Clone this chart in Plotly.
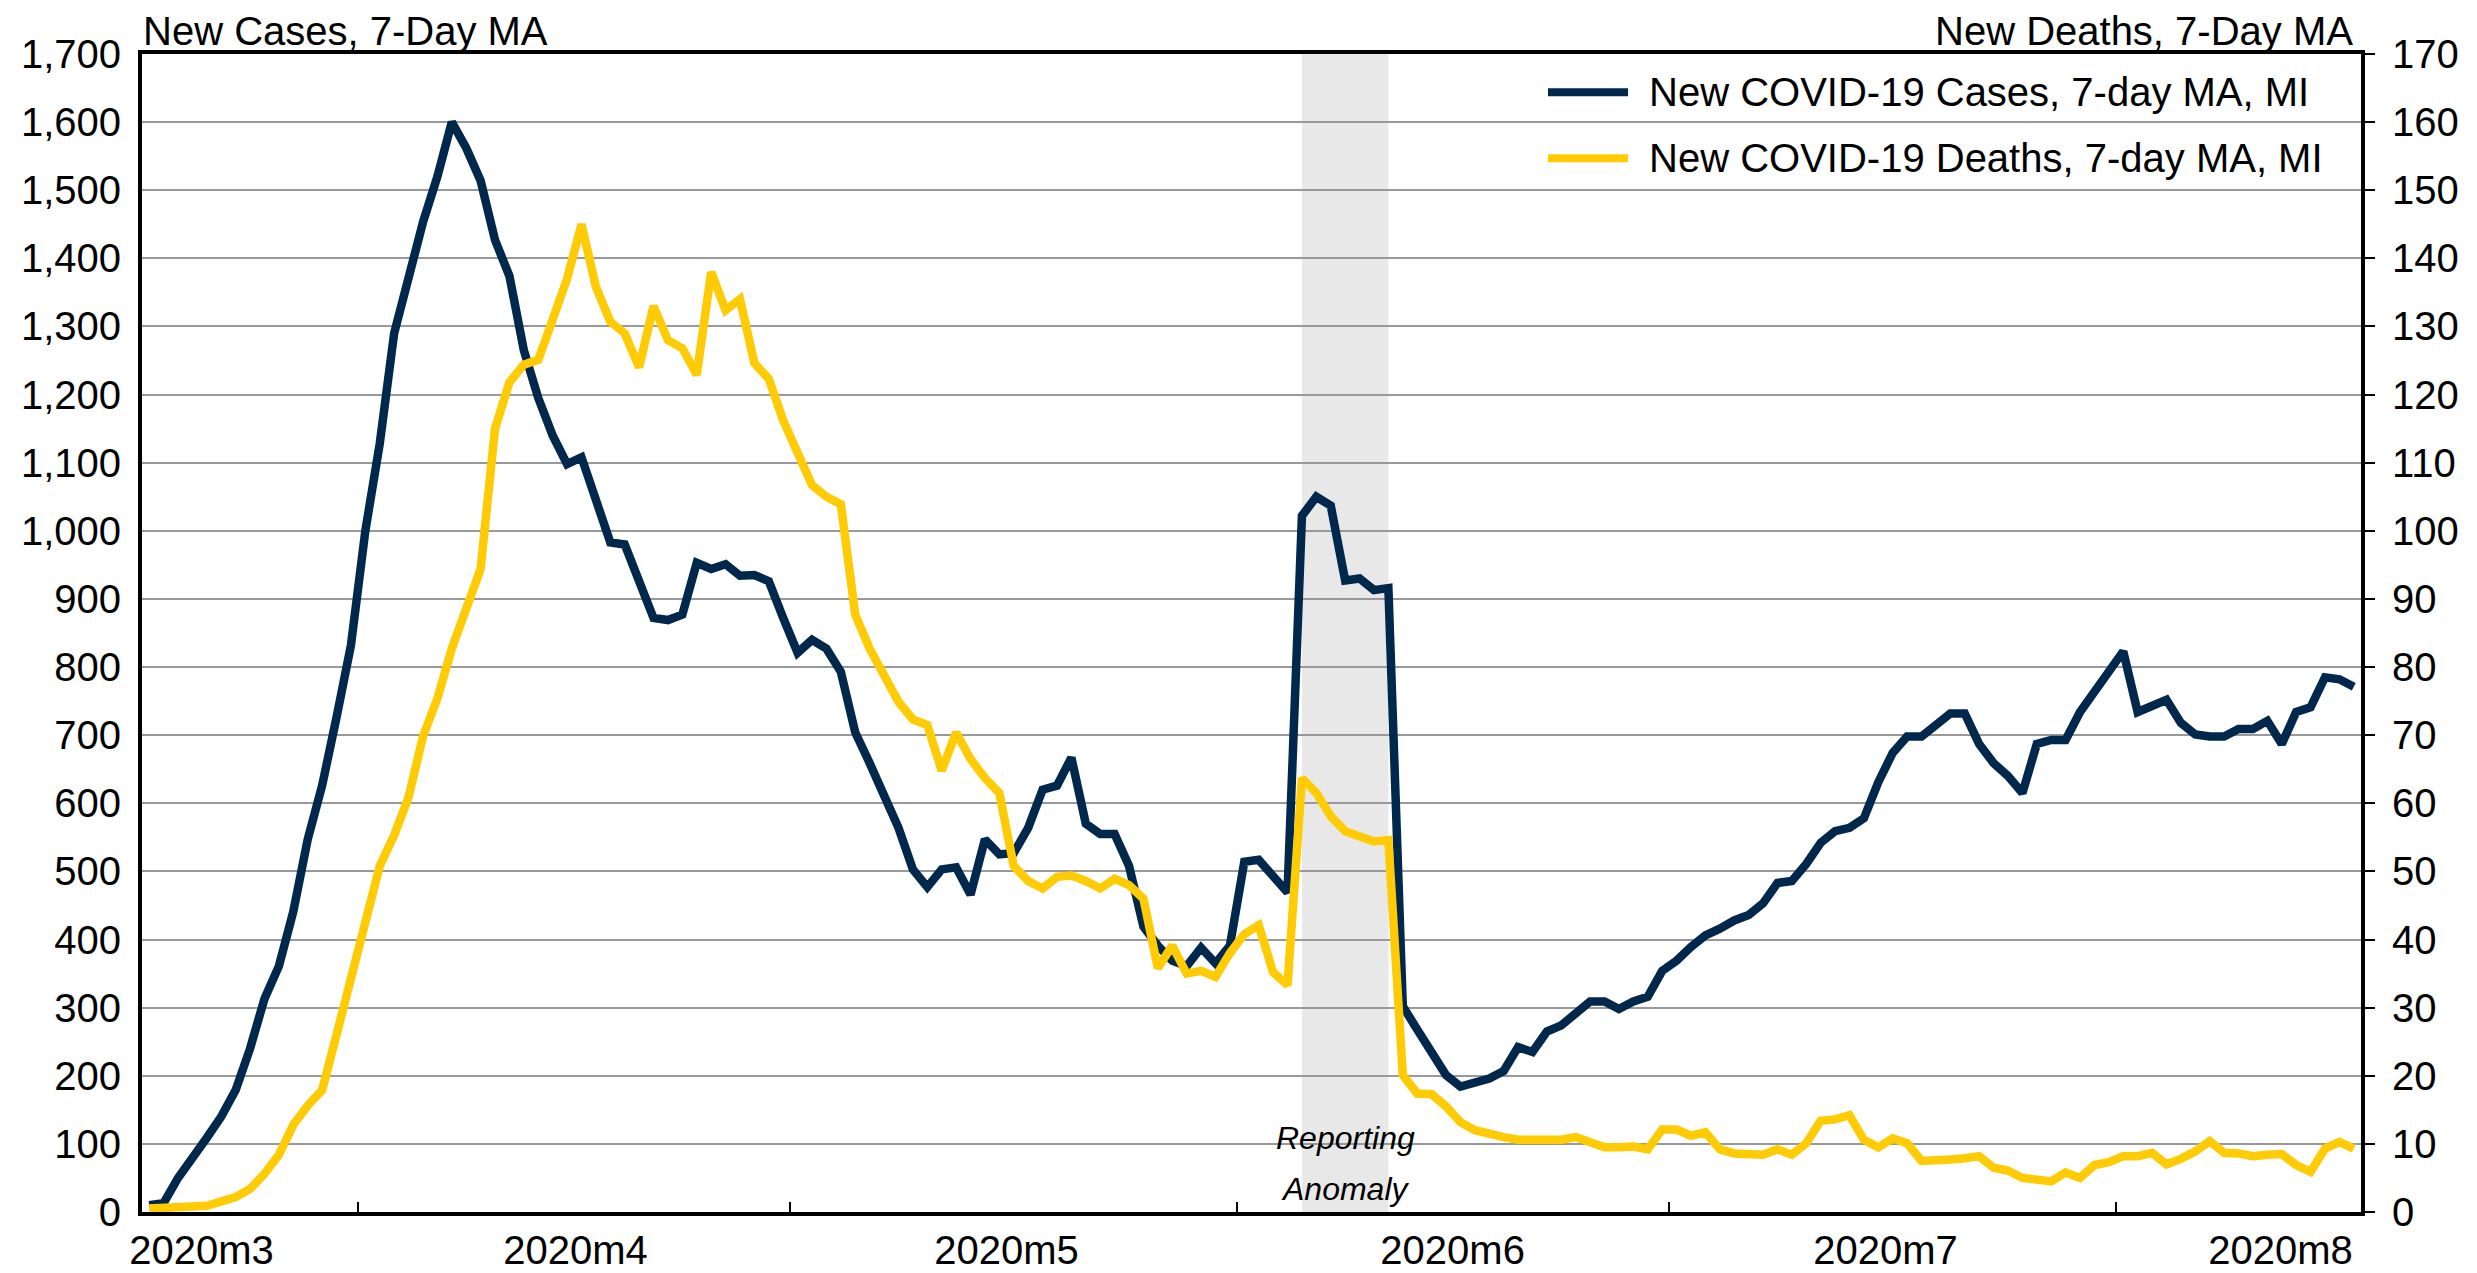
import pandas as pd
import plotly.graph_objs as go

# daily 7-day moving averages for Michigan, starting 2020-03-17
start_date = "2020-03-17"

new_cases_ma = [
    10, 13, 50, 78, 109, 140, 179, 240, 313, 361,
    441, 547, 626, 726, 832, 1000, 1128, 1290, 1374, 1453,
    1520, 1600, 1562, 1514, 1427, 1374, 1265, 1195, 1140, 1098,
    1108, 1045, 983, 980, 922, 872, 869, 877, 953, 944,
    951, 934, 935, 926, 872, 821, 840, 827, 793, 704,
    659, 609, 564, 503, 477, 503, 506, 466, 547, 525,
    527, 564, 620, 626, 667, 570, 555, 555, 508, 419,
    391, 369, 361, 388, 365, 391, 514, 517, 492, 469,
    1022, 1050, 1037, 927, 930, 913, 916, 302, 268, 235,
    201, 184, 190, 196, 207, 242, 235, 265, 274, 291,
    309, 309, 298, 309, 316, 354, 369, 389, 406, 416,
    428, 436, 453, 483, 486, 511, 542, 559, 564, 578,
    631, 674, 698, 698, 715, 732, 732, 687, 659, 640,
    615, 687, 693, 693, 734, 764, 790, 823, 734, 743,
    752, 718, 701, 698, 698, 709, 709, 721, 687, 734,
    741, 785, 782, 771,
]

new_deaths_ma = [
    0.5, 0.5, 0.7, 0.8, 0.9, 1.5, 2.2, 3.4, 5.6, 8.4,
    12.8, 15.6, 17.9, 26.0, 34.6, 41.9, 50.8, 55.3, 60.9, 69.8,
    75.4, 82.7, 88.8, 94.4, 115.0, 121.8, 124.4, 125.1, 131.0, 137.0,
    145.0, 135.8, 130.7, 129.0, 124.0, 133.0, 128.0, 126.8, 122.9, 138.0,
    132.4, 134.0, 124.6, 122.3, 116.2, 111.7, 106.7, 105.0, 103.9, 87.7,
    82.7, 78.8, 74.9, 72.3, 71.5, 64.8, 70.4, 66.5, 63.7, 61.5,
    50.8, 48.6, 47.5, 49.2, 49.4, 48.6, 47.5, 48.9, 48.0, 46.0,
    35.8, 39.1, 35.0, 35.4, 34.5, 38.0, 40.8, 42.1, 35.2, 33.3,
    63.7, 61.5, 58.1, 55.9, 55.1, 54.4, 54.6, 20.1, 17.4, 17.3,
    15.5, 13.2, 12.0, 11.4, 11.0, 10.6, 10.6, 10.9, 10.6, 11.0,
    10.3, 9.5, 9.5, 9.6, 9.2, 12.1, 12.1, 11.2, 11.7, 9.2,
    8.6, 8.5, 8.4, 9.2, 8.4, 10.1, 13.4, 13.6, 14.2, 10.6,
    9.5, 10.8, 10.1, 7.5, 7.5, 7.7, 7.9, 8.2, 6.5, 6.1,
    5.0, 4.8, 4.5, 5.8, 5.0, 6.9, 7.3, 8.2, 8.2, 8.7,
    7.0, 7.8, 8.9, 10.4, 8.7, 8.6, 8.2, 8.4, 8.5, 6.9,
    5.9, 9.3, 10.3, 9.3,
]

month_labels = ["2020m3", "2020m4", "2020m5", "2020m6", "2020m7", "2020m8"]
anomaly_start = "2020-06-05"
anomaly_end = "2020-06-11"

cases_name = "New COVID-19 Cases, 7-day MA, MI"
deaths_name = "New COVID-19 Deaths, 7-day MA, MI"

dates = pd.date_range(start_date, periods=len(new_cases_ma), freq="D")

NAVY = "#00274C"
MAIZE = "#FFCB05"
FONT = "Liberation Sans"

fig = go.Figure()

fig.add_trace(
    go.Scatter(
        x=dates,
        y=new_cases_ma,
        name=cases_name,
        mode="lines",
        line=dict(color=NAVY, width=8.5),
        yaxis="y",
    )
)

fig.add_trace(
    go.Scatter(
        x=dates,
        y=new_deaths_ma,
        name=deaths_name,
        mode="lines",
        line=dict(color=MAIZE, width=8.5),
        yaxis="y2",
    )
)

# shaded reporting anomaly window
fig.add_vrect(
    x0=anomaly_start,
    x1=anomaly_end,
    fillcolor="#e8e8e8",
    line_width=0,
    layer="below",
)

# labels sit mid-month, tick marks sit on month boundaries
label_pos = ["2020-03-20 15:00", "2020-04-15 14:00", "2020-05-15 12:00",
             "2020-06-15 11:00", "2020-07-15 12:00", "2020-08-11 22:00"]
boundary_pos = ["2020-03-31 12:00", "2020-04-30 12:00", "2020-05-31 12:00",
                "2020-06-30 12:00", "2020-07-31 12:00"]

# the page body adds an 8px margin, so the figure is sized to fit inside it
fig.update_layout(
    width=2469,
    height=1265,
    margin=dict(l=134, r=116, t=46, b=61),
    plot_bgcolor="white",
    paper_bgcolor="white",
    font=dict(family=FONT, size=40, color="black"),
    showlegend=False,
    xaxis=dict(
        type="date",
        range=["2020-03-16 12:00", "2020-08-17 12:00"],
        tickmode="array",
        tickvals=label_pos,
        ticktext=month_labels,
        ticks="",
        showgrid=False,
        showline=True,
        linecolor="black",
        linewidth=4,
        mirror=True,
        automargin=False,
        ticklabelstandoff=0,
        minor=dict(
            tickmode="array",
            tickvals=boundary_pos,
            ticks="inside",
            ticklen=10,
            tickwidth=2,
            tickcolor="black",
            showgrid=False,
        ),
    ),
    yaxis=dict(
        range=[0, 1700],
        dtick=100,
        tickformat=",",
        showgrid=True,
        gridcolor="#999999",
        gridwidth=1.5,
        zeroline=False,
        showline=True,
        linecolor="black",
        linewidth=4,
        mirror=True,
        ticks="",
        automargin=False,
        ticklabelstandoff=9,
    ),
    yaxis2=dict(
        range=[0, 170],
        dtick=10,
        overlaying="y",
        side="right",
        showgrid=False,
        zeroline=False,
        showline=True,
        linecolor="black",
        linewidth=4,
        ticks="outside",
        ticklen=10,
        tickwidth=2,
        tickcolor="black",
        automargin=False,
        ticklabelstandoff=9,
    ),
)

# axis titles
fig.add_annotation(text="New Cases, 7-Day MA", xref="paper", yref="paper",
                   x=0, y=1.02, xanchor="left", yanchor="middle",
                   showarrow=False, borderpad=0, font=dict(size=40))
fig.add_annotation(text="New Deaths, 7-Day MA", xref="paper", yref="paper",
                   x=0.997, y=1.02, xanchor="right", yanchor="middle",
                   showarrow=False, borderpad=0, font=dict(size=40))

# anomaly note
fig.add_annotation(text="<i>Reporting</i>", x="2020-06-08", xref="x",
                   y=0.064, yref="paper", showarrow=False,
                   font=dict(size=32), yanchor="middle")
fig.add_annotation(text="<i>Anomaly</i>", x="2020-06-08", xref="x",
                   y=0.020, yref="paper", showarrow=False,
                   font=dict(size=32), yanchor="middle")

# legend, drawn by hand so the line samples match the original length
for y_pos, color, label in [(0.967, NAVY, cases_name), (0.910, MAIZE, deaths_name)]:
    fig.add_shape(type="line", xref="paper", yref="paper",
                  x0=0.6336, x1=0.6697, y0=y_pos, y1=y_pos,
                  line=dict(color=color, width=8))
    fig.add_annotation(text=label, xref="paper", yref="paper",
                       x=0.6782, y=y_pos, xanchor="left", yanchor="middle",
                       showarrow=False, font=dict(size=40))

fig.write_html("out.html")
